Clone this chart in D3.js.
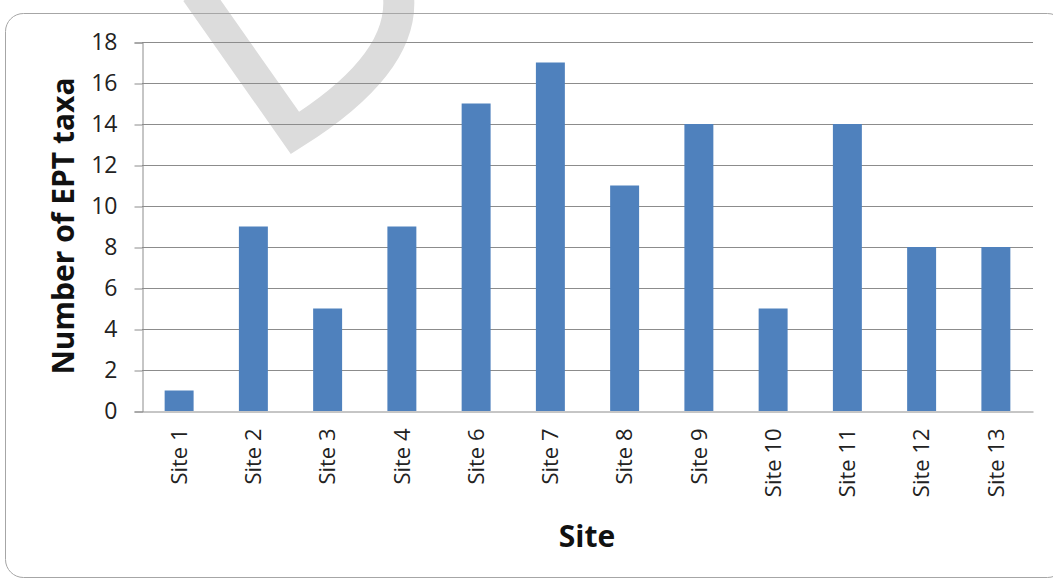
<!DOCTYPE html>
<html>
<head>
    <title>Number of EPT taxa by site</title>
    <script src="https://d3js.org/d3.v7.min.js"></script>
    <style>
        body { margin: 0; background: white; }
        svg { display: block; font-family: "Open Sans", "Noto Sans", sans-serif; }
    </style>
</head>
<body>
    <svg width="1053" height="581"></svg>

    <script>
        // Sites (there is no Site 5) and EPT taxa counts
        const sites = ["Site 1", "Site 2", "Site 3", "Site 4", "Site 6", "Site 7",
                       "Site 8", "Site 9", "Site 10", "Site 11", "Site 12", "Site 13"];
        const eptTaxa = [1, 9, 5, 9, 15, 17, 11, 14, 5, 14, 8, 8];
        const yTicks = [0, 2, 4, 6, 8, 10, 12, 14, 16, 18];

        const svg = d3.select("svg");
        const margin = { top: 42, right: 20, bottom: 170, left: 142 };
        const width = 1033 - margin.left;
        const height = 411 - margin.top;

        // faint watermark stroke behind the chart
        svg.append("path")
            .attr("d", "M196,-8 L295,133 Q408,62 398,-8")
            .attr("fill", "none")
            .attr("stroke", "#dcdcdc")
            .attr("stroke-width", 31)
            .attr("stroke-linejoin", "miter");

        // chart border
        svg.append("rect")
            .attr("x", 5.5).attr("y", 13.5)
            .attr("width", 1060).attr("height", 564)
            .attr("rx", 18)
            .attr("fill", "none")
            .attr("stroke", "#a6a6a6");

        const chartArea = svg.append("g")
            .attr("transform", `translate(${margin.left},${margin.top})`);

        const xScale = d3.scaleBand()
            .domain(sites)
            .range([0, width])
            .paddingInner(0.61)
            .paddingOuter(0.305);

        const yScale = d3.scaleLinear()
            .domain([0, 18])
            .range([height, 0]);

        // gridlines
        chartArea.append("g")
            .selectAll("line")
            .data(yTicks.filter(d => d > 0))
            .join("line")
            .attr("x1", 0).attr("x2", width)
            .attr("y1", d => yScale(d) + 0.5).attr("y2", d => yScale(d) + 0.5)
            .attr("stroke", "#8c8c8c");

        // y axis
        const yAxis = chartArea.append("g")
            .attr("transform", "translate(0.5,0.5)")
            .call(d3.axisLeft(yScale).tickValues(yTicks).tickSize(8).tickPadding(17));
        yAxis.attr("font-size", 23).attr("font-family", null);
        yAxis.select(".domain").attr("stroke", "#8c8c8c");
        yAxis.selectAll(".tick line").attr("stroke", "#8c8c8c");
        yAxis.selectAll(".tick text").attr("fill", "#222");

        // bars
        chartArea.selectAll("rect.bar")
            .data(eptTaxa)
            .join("rect")
            .attr("class", "bar")
            .attr("x", (d, i) => xScale(sites[i]))
            .attr("width", xScale.bandwidth())
            .attr("y", d => yScale(d))
            .attr("height", d => height - yScale(d))
            .attr("fill", "#4f81bd");

        // x axis
        const xAxis = chartArea.append("g")
            .attr("transform", `translate(0,${height + 0.5})`)
            .call(d3.axisBottom(xScale).tickSize(0).tickPadding(0));
        xAxis.attr("font-size", 22).attr("font-family", null);
        xAxis.select(".domain").attr("stroke", "#8c8c8c");
        xAxis.selectAll(".tick text")
            .attr("transform", "rotate(-90)")
            .attr("x", -17)
            .attr("y", 0)
            .attr("dy", "0.35em")
            .attr("text-anchor", "end")
            .attr("fill", "#222");

        // axis titles
        svg.append("text")
            .attr("transform", "translate(74,226) rotate(-90)")
            .attr("text-anchor", "middle")
            .attr("font-size", 30)
            .attr("font-weight", "bold")
            .attr("fill", "#111")
            .text("Number of EPT taxa");

        svg.append("text")
            .attr("x", 587)
            .attr("y", 547)
            .attr("text-anchor", "middle")
            .attr("font-size", 30)
            .attr("font-weight", "bold")
            .attr("fill", "#111")
            .text("Site");
    </script>
</body>
</html>
